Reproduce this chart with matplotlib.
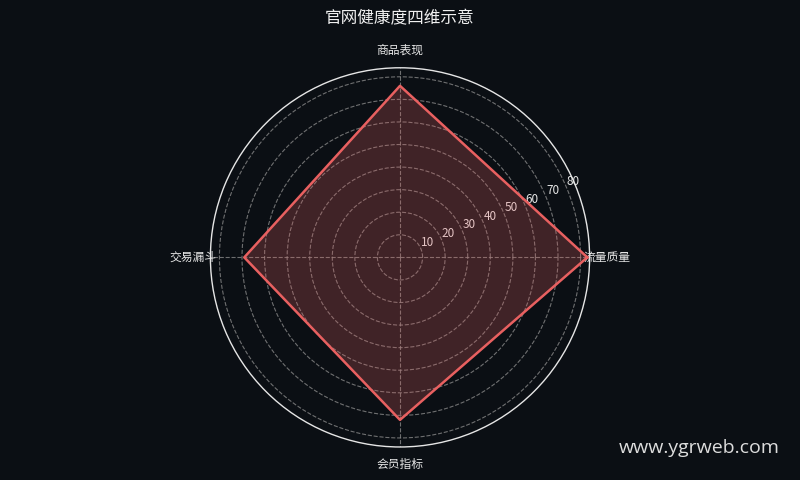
import numpy as np
import matplotlib
matplotlib.use("Agg")
import matplotlib.pyplot as plt

plt.rcParams['font.family'] = ['Noto Sans CJK SC', 'DejaVu Sans']

# 四个维度及得分
dims = ["流量质量", "商品表现", "交易漏斗", "会员指标"]
scores = [83, 76, 69, 72]
rticks = [10, 20, 30, 40, 50, 60, 70, 80]

bg = '#0b0f14'
fig = plt.figure(figsize=(8, 4.8), dpi=100, facecolor=bg)
ax = fig.add_axes([0.2625, 0.0688, 0.475, 0.79], polar=True, facecolor=bg)

angles = np.linspace(0, 2 * np.pi, len(dims), endpoint=False)
a_closed = np.concatenate([angles, angles[:1]])
s_closed = scores + scores[:1]

ax.fill(a_closed, s_closed, color='#e06060', alpha=0.25, zorder=2)
ax.plot(a_closed, s_closed, color='#e86060', lw=1.8, zorder=3)

ax.set_ylim(0, 84)
ax.set_rticks(rticks)
ax.set_rlabel_position(22.5)
ax.set_xticks(angles)
ax.set_xticklabels(dims, color='#e6e6e6', fontsize=8.5)
ax.tick_params(axis='x', pad=2)
ax.tick_params(axis='y', colors='#e6e6e6', labelsize=8.5)
ax.grid(color='#888888', linestyle='--', linewidth=0.8, alpha=0.8)
ax.spines['polar'].set_color('#e6e6e6')
ax.spines['polar'].set_linewidth(1.0)

fig.text(0.5, 0.96, "官网健康度四维示意", ha='center', va='center',
         color='#f0f0f0', fontsize=12)
fig.text(0.975, 0.066, "www.ygrweb.com", ha='right', va='center',
         color='#dddddd', fontsize=14, family=['Open Sans', 'DejaVu Sans'])

fig.savefig("out.png", dpi=100, facecolor=bg)
